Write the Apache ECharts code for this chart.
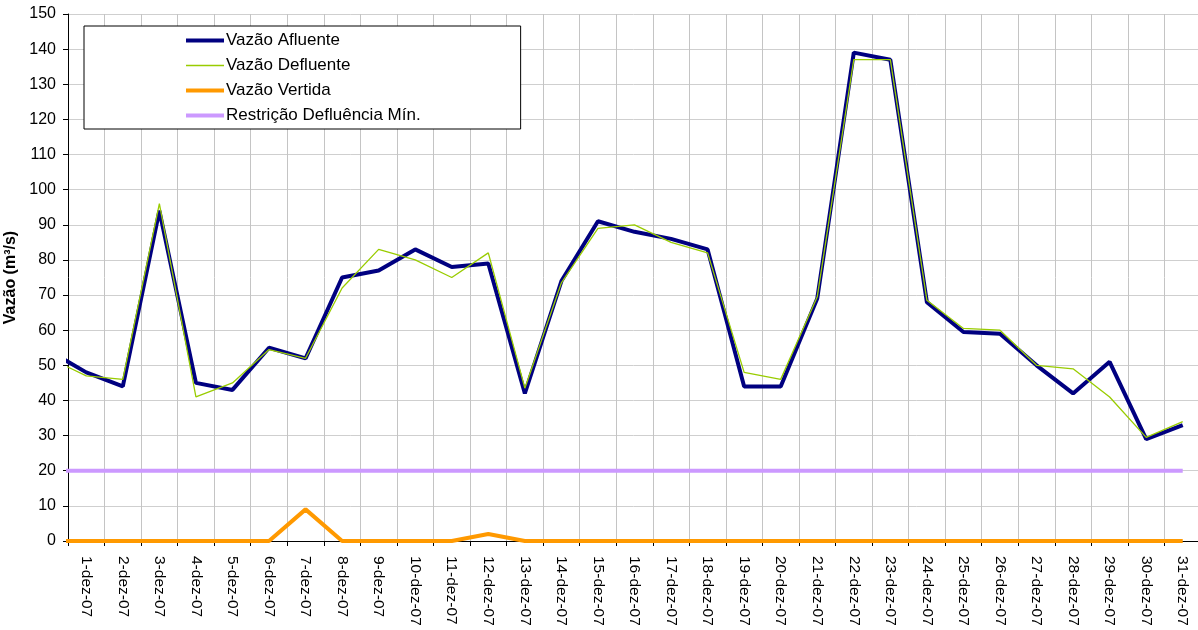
<!DOCTYPE html>
<html>
<head>
<meta charset="utf-8">
<script src="https://cdn.jsdelivr.net/npm/echarts@6/dist/echarts.min.js"></script>
<style>
html, body { margin: 0; padding: 0; background: #fff; }
#chart { width: 1198px; height: 630px; }
</style>
</head>
<body>
<div id="chart"></div>
<script>
var dias = ['1-dez-07','2-dez-07','3-dez-07','4-dez-07','5-dez-07','6-dez-07','7-dez-07','8-dez-07',
  '9-dez-07','10-dez-07','11-dez-07','12-dez-07','13-dez-07','14-dez-07','15-dez-07','16-dez-07',
  '17-dez-07','18-dez-07','19-dez-07','20-dez-07','21-dez-07','22-dez-07','23-dez-07','24-dez-07',
  '25-dez-07','26-dez-07','27-dez-07','28-dez-07','29-dez-07','30-dez-07','31-dez-07'];

var afluente  = [48, 44, 94, 45, 43, 55, 52, 75, 77, 83, 78, 79, 42, 74, 91, 88, 86, 83, 44, 44,
  69, 139, 137, 68, 59.5, 59, 50, 42, 51, 29, 33];
var defluente = [47, 46, 96, 41, 45, 54.5, 52, 72, 83, 80, 75, 82, 43.5, 73.5, 89, 90, 85, 82, 48, 46,
  69.5, 137, 137, 68.5, 60.5, 60, 50, 49, 41, 29.5, 34];
var vertida   = [0, 0, 0, 0, 0, 0, 9, 0, 0, 0, 0, 2, 0, 0, 0, 0, 0, 0, 0, 0,
  0, 0, 0, 0, 0, 0, 0, 0, 0, 0, 0];
var restricao = [20, 20, 20, 20, 20, 20, 20, 20, 20, 20, 20, 20, 20, 20, 20, 20, 20, 20, 20, 20,
  20, 20, 20, 20, 20, 20, 20, 20, 20, 20, 20];

// day before (30-nov), its segment is cut off at the y axis
var afluenteAnt = 54, defluenteAnt = 52, vertidaAnt = 0, restricaoAnt = 20;

var fonte = "'Liberation Sans', Arial, sans-serif";

// category i sits at the middle of its slot on the hidden value axis
function pontos(ant, arr) {
  var d = [[-0.5, ant]];
  arr.forEach(function (v, i) { d.push([i + 0.5, v]); });
  return d;
}

var chart = echarts.init(document.getElementById('chart'));
var option = {
  animation: false,
  textStyle: { fontFamily: fonte },
  grid: { left: 68, top: 14, right: -3, bottom: 89, containLabel: false, outerBoundsMode: 'none' },
  legend: {
    orient: 'vertical',
    left: 84, top: 26,
    padding: [6, 100, 5, 100],
    itemGap: 8,
    itemWidth: 38, itemHeight: 14,
    backgroundColor: '#fff',
    borderColor: '#000', borderWidth: 1, borderRadius: 0,
    itemStyle: { opacity: 0 },
    textStyle: { fontFamily: fonte, fontSize: 17, color: '#000', padding: [0, 0, 0, -3] },
    data: [
      { name: 'Vazão Afluente', lineStyle: { width: 4 } },
      { name: 'Vazão Defluente', lineStyle: { width: 1.3 } },
      { name: 'Vazão Vertida', lineStyle: { width: 4 } },
      { name: 'Restrição Defluência Mín.', lineStyle: { width: 4 } }
    ]
  },
  xAxis: [{
    type: 'category',
    data: dias,
    boundaryGap: true,
    axisLine: { lineStyle: { color: '#000', width: 1 } },
    axisTick: { show: true, length: 5, interval: 0, lineStyle: { color: '#000' } },
    axisLabel: { rotate: -90, interval: 0, fontSize: 15.5, color: '#000', fontFamily: fonte, margin: 15 },
    splitLine: { show: true, interval: 0, lineStyle: { color: '#c4c4c4', width: 1 } }
  }, {
    type: 'value', min: 0, max: 31, show: false
  }],
  yAxis: {
    type: 'value',
    min: 0, max: 150, interval: 10,
    name: 'Vazão (m³/s)',
    nameLocation: 'middle',
    nameGap: 41,
    nameTextStyle: { fontFamily: fonte, fontSize: 16, fontWeight: 'bold', color: '#000' },
    axisLine: { show: true, lineStyle: { color: '#000', width: 1 } },
    axisTick: { show: true, length: 5, lineStyle: { color: '#000' } },
    axisLabel: { fontSize: 16, color: '#000', fontFamily: fonte, margin: 12 },
    splitLine: { show: true, lineStyle: { color: '#cfcfcf', width: 1 } }
  },
  series: [{
    name: 'Vazão Afluente', type: 'line', xAxisIndex: 1,
    data: pontos(afluenteAnt, afluente),
    symbol: 'none', color: '#000080',
    lineStyle: { color: '#000080', width: 4 }, z: 3
  }, {
    name: 'Vazão Defluente', type: 'line', xAxisIndex: 1,
    data: pontos(defluenteAnt, defluente),
    symbol: 'none', color: '#99cc00',
    lineStyle: { color: '#99cc00', width: 1.3 }, z: 4
  }, {
    name: 'Vazão Vertida', type: 'line', xAxisIndex: 1,
    data: pontos(vertidaAnt, vertida),
    symbol: 'none', color: '#ff9900',
    lineStyle: { color: '#ff9900', width: 4 }, z: 5
  }, {
    name: 'Restrição Defluência Mín.', type: 'line', xAxisIndex: 1,
    data: pontos(restricaoAnt, restricao),
    symbol: 'none', color: '#cc99ff',
    lineStyle: { color: '#cc99ff', width: 4 }, z: 5
  }]
};
option && chart.setOption(option);
</script>
</body>
</html>
